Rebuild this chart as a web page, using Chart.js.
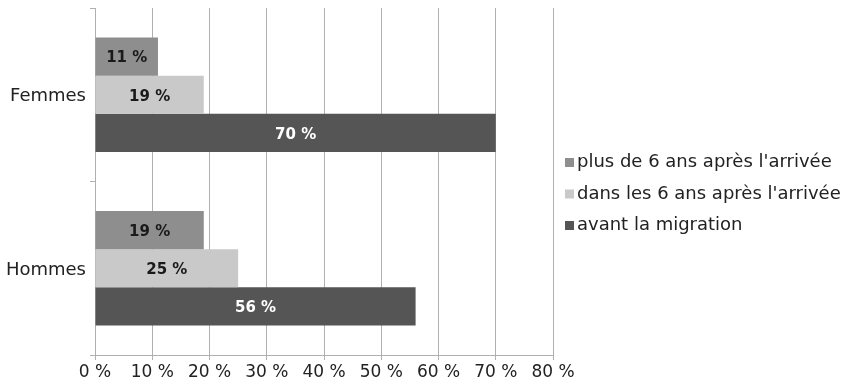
<!DOCTYPE html>
<html lang="fr">
<head>
<meta charset="UTF-8">
<title>Migration</title>
<script src="https://cdn.jsdelivr.net/npm/chart.js"></script>
<style>
    html, body { margin: 0; padding: 0; background: #fff; }
    #wrap { width: 849px; height: 386px; }
</style>
</head>
<body>
<div id="wrap"><canvas id="chart"></canvas></div>
<script>
    // données
    const categories = ['Femmes', 'Hommes'];
    const seriesNames = ["plus de 6 ans après l'arrivée", "dans les 6 ans après l'arrivée", 'avant la migration'];
    const plusDe6Ans = [11, 19];
    const dans6Ans = [19, 25];
    const avantMigration = [70, 56];
    const xTicks = [0, 10, 20, 30, 40, 50, 60, 70, 80];

    const colors = ['#8e8e8e', '#c8c9c8', '#555555'];
    const labelColors = ['#1a1a1a', '#1a1a1a', '#ffffff'];
    const FONT = "'DejaVu Sans', sans-serif";

    // étiquettes au centre des barres
    const barLabels = {
        id: 'barLabels',
        afterDatasetsDraw(chart) {
            const ctx = chart.ctx;
            ctx.save();
            ctx.font = 'bold 15px ' + FONT;
            ctx.textAlign = 'center';
            ctx.textBaseline = 'middle';
            chart.data.datasets.forEach((ds, i) => {
                chart.getDatasetMeta(i).data.forEach((bar, j) => {
                    const x = (bar.x + bar.base) / 2;
                    ctx.fillStyle = labelColors[i];
                    ctx.fillText(ds.data[j] + ' %', x, bar.y + 2);
                });
            });
            ctx.restore();
        }
    };

    // légende à droite, carrés + texte
    const sideLegend = {
        id: 'sideLegend',
        afterDraw(chart) {
            const ctx = chart.ctx;
            const area = chart.chartArea;
            const x0 = area.right + 12;
            const mid = (area.top + area.bottom) / 2 + 17;
            const step = 31.5;
            ctx.save();
            ctx.font = '18px ' + FONT;
            ctx.textBaseline = 'alphabetic';
            ctx.textAlign = 'left';
            chart.data.datasets.forEach((ds, i) => {
                const base = mid + (i - 1) * step;
                ctx.fillStyle = ds.backgroundColor;
                ctx.fillRect(x0, base - 9, 9, 9);
                ctx.fillStyle = '#222';
                ctx.fillText(ds.label, x0 + 12, base);
            });
            ctx.restore();
        }
    };

    new Chart(document.getElementById('chart'), {
        type: 'bar',
        data: {
            labels: categories,
            datasets: [
                { label: seriesNames[0], data: plusDe6Ans, backgroundColor: colors[0] },
                { label: seriesNames[1], data: dans6Ans, backgroundColor: colors[1] },
                { label: seriesNames[2], data: avantMigration, backgroundColor: colors[2] }
            ]
        },
        options: {
            indexAxis: 'y',
            responsive: true,
            maintainAspectRatio: false,
            animation: false,
            datasets: {
                bar: { categoryPercentage: 0.66, barPercentage: 1.0 }
            },
            layout: { padding: { top: 8, left: 0, right: 296, bottom: 0 } },
            scales: {
                x: {
                    min: 0,
                    max: 80,
                    afterBuildTicks(axis) { axis.ticks = xTicks.map(v => ({ value: v })); },
                    afterFit(axis) { axis.height = 31; },
                    grid: { color: '#b0b0b0', lineWidth: 1, tickLength: 5 },
                    border: { color: '#b0b0b0' },
                    ticks: {
                        color: '#222',
                        font: { family: FONT, size: 17 },
                        padding: 2,
                        maxRotation: 0,
                        callback: v => v + ' %'
                    }
                },
                y: {
                    afterFit(axis) {
                        axis.width = 95;
                        axis.paddingTop = 0;
                        axis.paddingBottom = 0;
                    },
                    grid: { drawOnChartArea: false, color: '#b0b0b0', tickLength: 5, offset: true },
                    border: { color: '#b0b0b0' },
                    ticks: {
                        color: '#222',
                        font: { family: FONT, size: 18 },
                        padding: 4,
                        labelOffset: 2
                    }
                }
            },
            plugins: {
                legend: { display: false },
                tooltip: { enabled: false }
            }
        },
        plugins: [barLabels, sideLegend]
    });
</script>
</body>
</html>
